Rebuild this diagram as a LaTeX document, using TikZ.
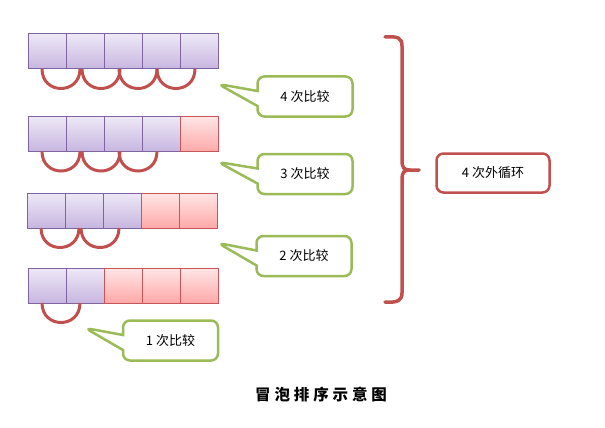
\documentclass[tikz,border=0pt]{standalone}
\usepackage{fontspec}
\setmainfont{Noto Sans CJK SC}
\usepackage{tikz}
\usetikzlibrary{shapes.callouts}
\usetikzlibrary{positioning}
\definecolor{cellline}{HTML}{8064A2}
\definecolor{ptop}{HTML}{EEE8F6}
\definecolor{pbot}{HTML}{C7B6E0}
\definecolor{rline}{HTML}{C9555A}
\definecolor{rtop}{HTML}{FFE6E6}
\definecolor{rbot}{HTML}{FFA8A8}
\definecolor{notegreen}{HTML}{9BBB59}
\definecolor{loopred}{HTML}{C0504D}
\tikzstyle{pcell} = [rectangle, minimum width=38pt, minimum height=35pt, draw=cellline,
line width=1pt, outer sep=0pt, top color=ptop, bottom color=pbot]
\tikzstyle{rcell} = [rectangle, minimum width=38pt, minimum height=35pt, draw=rline,
line width=1pt, outer sep=0pt, top color=rtop, bottom color=rbot]
\tikzstyle{note} = [rectangle callout, rounded corners=7pt, draw=notegreen, line width=2.5pt,
fill=white, minimum width=95pt, minimum height=40pt, callout pointer width=15pt,
font=\fontsize{13}{15}\selectfont]
\tikzstyle{loopbox} = [rectangle, rounded corners=7pt, draw=loopred, line width=2.5pt,
minimum width=113pt, minimum height=39pt, font=\fontsize{13}{15}\selectfont]
\tikzstyle{swap} = [draw=loopred, line width=3pt]

\begin{document}
\begin{tikzpicture}[x=1pt, y=-1pt, node distance=0pt]
  \useasboundingbox (0,0) rectangle (605,428);

  % first pass
  \node (a1) [pcell] at (47,51.5) {};
  \node (a2) [pcell, right=of a1] {};
  \node (a3) [pcell, right=of a2] {};
  \node (a4) [pcell, right=of a3] {};
  \node (a5) [pcell, right=of a4] {};
  % second pass
  \node (b1) [pcell] at (47,134) {};
  \node (b2) [pcell, right=of b1] {};
  \node (b3) [pcell, right=of b2] {};
  \node (b4) [pcell, right=of b3] {};
  \node (b5) [rcell, right=of b4] {};
  % third pass
  \node (c1) [pcell] at (46,210.5) {};
  \node (c2) [pcell, right=of c1] {};
  \node (c3) [pcell, right=of c2] {};
  \node (c4) [rcell, right=of c3] {};
  \node (c5) [rcell, right=of c4] {};
  % fourth pass
  \node (d1) [pcell] at (47,285.5) {};
  \node (d2) [pcell, right=of d1] {};
  \node (d3) [rcell, right=of d2] {};
  \node (d4) [rcell, right=of d3] {};
  \node (d5) [rcell, right=of d4] {};

  \draw[swap] ([xshift=-5pt]a1.south) .. controls +(0,26) and +(0,26) .. ([xshift=-5pt]a2.south);
  \draw[swap] ([xshift=-3pt]a2.south) .. controls +(0,26) and +(0,26) .. ([xshift=-3pt]a3.south);
  \draw[swap] ([xshift=-4pt]a3.south) .. controls +(0,26) and +(0,26) .. ([xshift=-4pt]a4.south);
  \draw[swap] ([xshift=-4pt]a4.south) .. controls +(0,26) and +(0,26) .. ([xshift=-4pt]a5.south);

  \draw[swap] ([xshift=-5pt]b1.south) .. controls +(0,26) and +(0,26) .. ([xshift=-5pt]b2.south);
  \draw[swap] ([xshift=-3pt]b2.south) .. controls +(0,26) and +(0,26) .. ([xshift=-3pt]b3.south);
  \draw[swap] ([xshift=-4pt]b3.south) .. controls +(0,26) and +(0,26) .. ([xshift=-4pt]b4.south);

  \draw[swap] ([xshift=-5pt]c1.south) .. controls +(0,26) and +(0,26) .. ([xshift=-5pt]c2.south);
  \draw[swap] ([xshift=-3pt]c2.south) .. controls +(0,26) and +(0,26) .. ([xshift=-3pt]c3.south);

  \draw[swap] ([xshift=-5pt]d1.south) .. controls +(0,26) and +(0,26) .. ([xshift=-5pt]d2.south);

  % comparison notes
  \coordinate (t4) at (218,84);
  \coordinate (t3) at (218,162);
  \coordinate (t2) at (218,243);
  \coordinate (t1) at (85,328);
  \node (n4) [note, callout absolute pointer={(t4)}] at (305,96.5) {4 次比较};
  \node (n3) [note, callout absolute pointer={(t3)}] at (305,174) {3 次比较};
  \node (n2) [note, callout absolute pointer={(t2)}] at (304,256) {2 次比较};
  \node (n1) [note, callout absolute pointer={(t1)}] at (170.5,340.5) {1 次比较};

  % outer loop brace
  \coordinate (bt) at (385,37);
  \coordinate (bm) at (419,170);
  \coordinate (bb) at (385,302);
  \draw[swap, line width=3.5pt, line cap=round] (bt) .. controls (398,36) and (402,38) .. (402,46)
  -- (402,160) .. controls (402,168) and (404,170) .. (410,170) -- (bm);
  \draw[swap, line width=3.5pt, line cap=round] (410,170) .. controls (404,170) and (402,172) .. (402,180)
  -- (402,293) .. controls (402,300) and (398,303) .. (bb);
  \node (outer) [loopbox] at (493,173) {4 次外循环};

  \node (title) at (321,395) {\fontsize{15.5}{18}\selectfont\bfseries\addfontfeature{LetterSpace=25}冒泡排序示意图};
\end{tikzpicture}
\end{document}
